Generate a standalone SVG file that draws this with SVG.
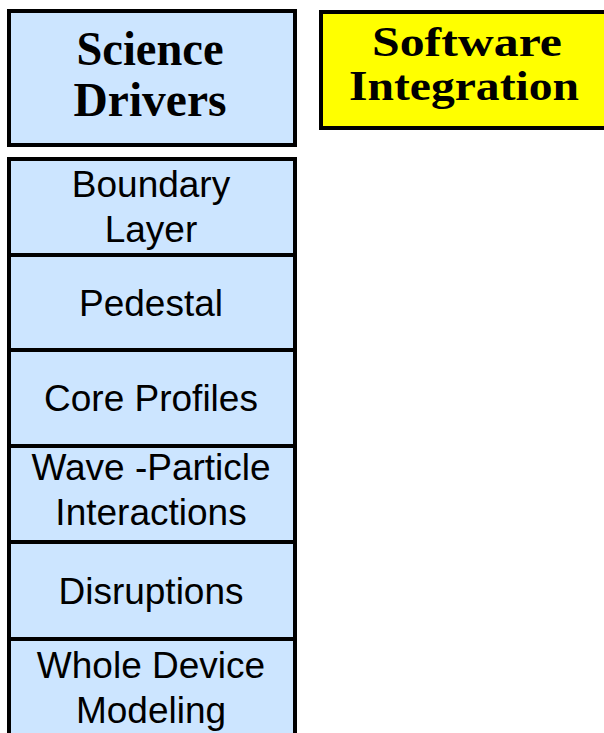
<svg xmlns="http://www.w3.org/2000/svg" width="604" height="733" viewBox="0 0 604 733">
  <style>
    .box { stroke: #000; stroke-width: 4; }
    .blue { fill: #cce5ff; }
    .yellow { fill: #ffff00; }
    .head { font-family: "Liberation Serif", "Times New Roman", serif; font-weight: bold; fill: #000; text-anchor: middle; }
    .item { font-family: "Liberation Sans", Arial, sans-serif; font-size: 37px; fill: #000; text-anchor: middle; }
  </style>
  <rect width="604" height="733" fill="#fff"/>

  <g id="science-drivers">
    <rect class="box blue" x="9" y="11" width="286" height="134"/>
    <text class="head" x="150" y="65" font-size="48" textLength="147" lengthAdjust="spacingAndGlyphs">Science</text>
    <text class="head" x="150" y="116" font-size="48" textLength="153" lengthAdjust="spacingAndGlyphs">Drivers</text>
  </g>

  <g id="software-integration">
    <rect class="box yellow" x="321" y="12" width="285" height="116"/>
    <text class="head" x="467" y="56" font-size="43" textLength="190" lengthAdjust="spacingAndGlyphs">Software</text>
    <text class="head" x="464" y="100" font-size="43" textLength="230" lengthAdjust="spacingAndGlyphs">Integration</text>
  </g>

  <g id="boundary-layer">
    <rect class="box blue" x="9" y="159" width="286" height="96"/>
    <text class="item" x="151" y="197">Boundary</text>
    <text class="item" x="151" y="242">Layer</text>
  </g>

  <g id="pedestal">
    <rect class="box blue" x="9" y="255" width="286" height="95"/>
    <text class="item" x="151" y="316">Pedestal</text>
  </g>

  <g id="core-profiles">
    <rect class="box blue" x="9" y="350" width="286" height="96"/>
    <text class="item" x="151" y="411">Core Profiles</text>
  </g>

  <g id="wave-particle">
    <rect class="box blue" x="9" y="446" width="286" height="96"/>
    <text class="item" x="151" y="480">Wave -Particle</text>
    <text class="item" x="151" y="525">Interactions</text>
  </g>

  <g id="disruptions">
    <rect class="box blue" x="9" y="542" width="286" height="97"/>
    <text class="item" x="151" y="604">Disruptions</text>
  </g>

  <g id="whole-device-modeling">
    <rect class="box blue" x="9" y="639" width="286" height="100"/>
    <text class="item" x="151" y="678">Whole Device</text>
    <text class="item" x="151" y="723">Modeling</text>
  </g>

  <g id="connectors"></g>
</svg>
